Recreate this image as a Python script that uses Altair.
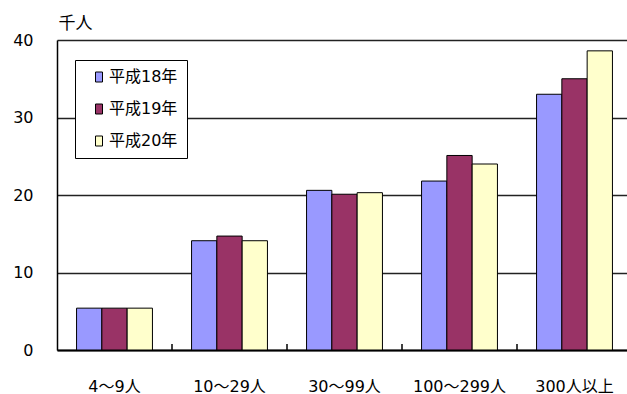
import altair as alt
import pandas as pd

categories = ["4～9人", "10～29人", "30～99人", "100～299人", "300人以上"]
years = ["平成18年", "平成19年", "平成20年"]
v18 = [5.4, 14.1, 20.6, 21.8, 33.0]
v19 = [5.4, 14.7, 20.1, 25.1, 35.0]
v20 = [5.4, 14.1, 20.3, 24.0, 38.6]
colors = ["#9999FF", "#993366", "#FFFFCC"]
y_ticks = [0, 10, 20, 30, 40]

rows = []
for yr, vals in zip(years, [v18, v19, v20]):
    for c, v in zip(categories, vals):
        rows.append({"cat": c, "year": yr, "value": v})
df = pd.DataFrame(rows)
tick_df = pd.DataFrame({"cat": categories[1:]})

FONT = "DejaVu Sans, Noto Sans CJK JP"

xscale = alt.Scale(domain=categories, range=[0, 575], paddingInner=0.34, paddingOuter=0.17)
xaxis = alt.Axis(title=None, labelAngle=0, ticks=False, grid=False, labelPadding=28,
                 labelFontSize=16, labelFont=FONT, labelColor="black",
                 domainColor="black", domainWidth=2)

bars = alt.Chart(df).mark_bar(stroke="black", strokeWidth=1).encode(
    x=alt.X("cat:N", scale=xscale, axis=xaxis, sort=categories),
    xOffset=alt.XOffset("year:N", scale=alt.Scale(domain=years, paddingInner=0, paddingOuter=0)),
    y=alt.Y("value:Q", scale=alt.Scale(domain=[0, 40], nice=False),
            axis=alt.Axis(values=y_ticks, title="千人", titleAngle=0, titleAlign="left",
                          titleBaseline="alphabetic", titleX=1, titleY=-12,
                          titleFontSize=17, titleFontWeight="normal", titleFont=FONT,
                          titleColor="black",
                          ticks=False, labelPadding=24, labelFontSize=16, labelFont=FONT,
                          labelColor="black", grid=True, gridColor="#222", gridWidth=1.5,
                          domainColor="black", domainWidth=1.5)),
    color=alt.Color("year:N", scale=alt.Scale(domain=years, range=colors),
                    legend=alt.Legend(title=None, orient="none", legendX=18, legendY=20,
                                      fillColor="white", strokeColor="black",
                                      padding=9, rowPadding=16, symbolOffset=7,
                                      labelOffset=2,
                                      labelExpr="datum.label + '\u3000\u2002'",
                                      symbolType="M-0.7,-1H0.7V1H-0.7Z", symbolSize=100,
                                      symbolStrokeColor="black", symbolStrokeWidth=1,
                                      labelFontSize=16, labelFont=FONT, labelColor="black")),
)

ticks = alt.Chart(tick_df).mark_rule(color="black", strokeWidth=1.5, xOffset=-57.5).encode(
    x=alt.X("cat:N", scale=xscale, axis=xaxis, sort=categories),
    y=alt.value(304),
    y2=alt.value(310),
)

chart = alt.layer(bars, ticks).properties(
    width=570, height=310,
    autosize=alt.AutoSizeParams(type="none"),
    padding={"left": 57, "top": 40, "right": 0, "bottom": 44},
    background="white",
).configure_view(stroke=None)

chart.save("out.html", embed_options={"renderer": "svg", "actions": False})
